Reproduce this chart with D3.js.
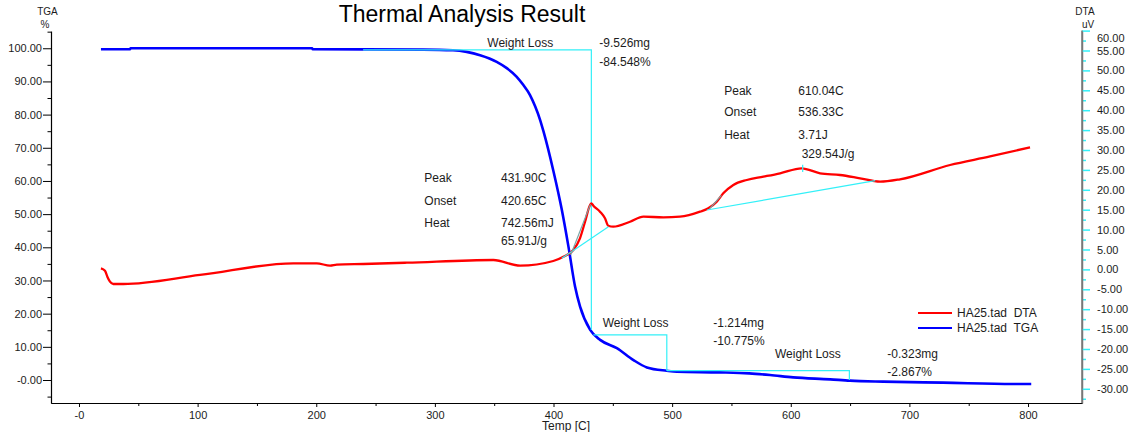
<!DOCTYPE html>
<html>
<head>
<meta charset="utf-8">
<script src="https://cdn.jsdelivr.net/npm/d3@7"></script>
<style>
  html, body { margin: 0; padding: 0; background: #fff; }
  svg { display: block; font-family: "Liberation Sans", Arial, sans-serif; }
</style>
</head>
<body>
<svg id="chart" width="1136" height="432"></svg>
<script>
// ---------------- data ----------------
const title = "Thermal Analysis Result";
const xLabel = "Temp [C]";
const tempTicks = [0, 100, 200, 300, 400, 500, 600, 700, 800];
const tempTickLabels = ["-0", "100", "200", "300", "400", "500", "600", "700", "800"];
const tgaTicks = [0, 10, 20, 30, 40, 50, 60, 70, 80, 90, 100];
const tgaTickLabels = ["-0.00", "10.00", "20.00", "30.00", "40.00", "50.00", "60.00", "70.00", "80.00", "90.00", "100.00"];
const dtaTicks = [-30, -25, -20, -15, -10, -5, 0, 5, 10, 15, 20, 25, 30, 35, 40, 45, 50, 55, 60];
const dtaTickLabels = ["-30.00", "-25.00", "-20.00", "-15.00", "-10.00", "-5.00", "0.00", "5.00", "10.00", "15.00",
                       "20.00", "25.00", "30.00", "35.00", "40.00", "45.00", "50.00", "55.00", "60.00"];

// TGA curve: [temperature C, weight %]
const tgaTemp = [18.5, 43, 43.5, 196.5, 197, 290, 315.3, 326.8, 338.1, 352.1, 360.6, 369, 374.6, 380.2, 384.5, 388.6,
  391.5, 399.9, 407.0, 412.6, 418.2, 422.4, 430.9, 439.3, 453.4, 467.4, 478.7, 495.5, 504, 540, 565, 582.5, 602,
  633.2, 650, 678, 728.5, 787.5, 802.7];
const tgaValue = [99.7, 99.7, 100.0, 100.0, 99.7, 99.6, 99.4, 98.9, 97.9, 95.9, 94.0, 91.4, 88.9, 85.9, 82.5, 78.5,
  75.0, 63.0, 51.3, 40.2, 28.1, 22.1, 15.1, 12.1, 9.6, 6.0, 3.8, 2.8, 2.5, 2.3, 2.0, 1.5, 0.8,
  0.2, -0.2, -0.5, -0.8, -1.2, -1.2];

// DTA curve: [temperature C, uV]
const dtaTemp = [18.5, 21.9, 23.9, 26.1, 28.9, 37.4, 102, 180.7, 200.4, 211.6, 217.3, 239.7, 276.3, 349.3, 371.8,
  399.8, 408.3, 416.7, 422.3, 426.6, 430.8, 431.9, 433.6, 439.2, 443.4, 446.2, 450.4, 464.5, 475.8, 492.6, 506.6,
  523.5, 530.5, 537.6, 543.1, 551.6, 562.9, 576.9, 591, 609.2, 624.7, 641.5, 658.4, 675.3, 692.1, 734.3, 768, 801.7];
const dtaValue = [0.28, -0.33, -1.83, -3.09, -3.67, -3.67, -1.4, 1.53, 1.53, 0.93, 1.18, 1.36, 1.68, 2.36, 0.93,
  2.11, 3.19, 4.87, 7.81, 11.98, 16.18, 16.6, 16.0, 14.5, 12.84, 10.98, 10.73, 11.98, 13.24, 13.09, 13.24,
  14.5, 15.35, 17.01, 19.12, 21.21, 22.46, 23.29, 24.15, 25.4, 24.15, 23.72, 22.89, 22.04, 22.64, 26.23, 28.37, 30.68];

// TGA weight-loss steps: start T, end T, upper %, lower %
const lossStartT = [239.5, 433.6, 495.5];
const lossEndT = [431.9, 495.5, 649.4];
const lossUpper = [99.5, 13.6, 2.8];
const lossLower = [15.1, 2.8, 0.0];
const lossMg = ["-9.526mg", "-1.214mg", "-0.323mg"];
const lossPct = ["-84.548%", "-10.775%", "-2.867%"];
// label anchors in data space (T, %)
const lossTitleT = [344.2, 441.5, 586.7];
const lossTitleV = [101.5, 17.3, 8.05];
const lossValT = [438.6, 534.7, 681.4];
const lossValV1 = [101.5, 17.3, 8.05];
const lossValV2 = [95.9, 11.8, 2.5];

// DTA peak analysis
const peakNames = ["Peak", "Onset", "Heat"];
const peak1Values = ["431.90C", "420.65C", "742.56mJ", "65.91J/g"];
const peak2Values = ["610.04C", "536.33C", "3.71J", "329.54J/g"];
const peakLabelT = [291.1, 543.9];
const peakValueT = [355.7, 606.4];
const peakRowsV1 = [22.9, 17.26, 11.83, 7.2];
const peakRowsV2 = [44.9, 39.55, 33.94, 29.0];
const peakBaseT = [[407, 446.3], [529.3, 671.2]];
const peakBaseV = [[2.79, 10.73], [14.92, 22.29]];
const peakTanT = [[414.5, 431.2], [531.5, 541.5]];
const peakTanV = [[3.6, 16.4], [15.2, 18.6]];
const peakMarkT = 610.04;
const peakMarkV = [24.5, 26.3];

const legendNames = ["HA25.tad  DTA", "HA25.tad  TGA"];
const legendColors = ["#ff0000", "#0000ff"];

// ---------------- drawing ----------------
const svg = d3.select("#chart");
const x = d3.scaleLinear().domain([-23.6, 845.5]).range([51, 1082]);
const yL = d3.scaleLinear().domain([-6.93, 105.2]).range([403, 31]);
const yR = d3.scaleLinear().domain([-33.57, 60]).range([403, 30.6]);
const txt = "#1c1c1c";
const cyan = "#33f0f8";

// Title
svg.append("text").attr("x", 462).attr("y", 22).attr("text-anchor", "middle")
  .attr("font-size", 23).attr("fill", "#000").text(title);

// Axis unit labels
svg.append("text").attr("x", 47.5).attr("y", 15).attr("text-anchor", "middle").attr("font-size", 10).attr("fill", txt).text("TGA");
svg.append("text").attr("x", 45).attr("y", 27.5).attr("text-anchor", "middle").attr("font-size", 10).attr("fill", txt).text("%");
svg.append("text").attr("x", 1085).attr("y", 15).attr("text-anchor", "middle").attr("font-size", 10).attr("fill", txt).text("DTA");
svg.append("text").attr("x", 1088).attr("y", 27.5).attr("text-anchor", "middle").attr("font-size", 10).attr("fill", txt).text("uV");

// Bottom axis
const minorT = d3.range(50, 846, 100);
svg.append("g").attr("transform", "translate(0,403)")
  .call(d3.axisBottom(x).tickValues(minorT).tickSize(3).tickSizeOuter(0).tickFormat(""))
  .call(g => g.select(".domain").attr("stroke", "#000"));
const bx = svg.append("g").attr("transform", "translate(0,403)")
  .call(d3.axisBottom(x).tickValues(tempTicks).tickSize(4).tickSizeOuter(0).tickPadding(4)
    .tickFormat((d, i) => tempTickLabels[i]));
bx.select(".domain").attr("stroke", "#000").attr("stroke-width", 1.2);
bx.selectAll("text").attr("font-size", 11).attr("fill", txt).attr("font-family", "Liberation Sans, Arial, sans-serif");

svg.append("text").attr("x", 566).attr("y", 430).attr("text-anchor", "middle")
  .attr("font-size", 12).attr("fill", txt).text(xLabel);

// Left axis
const minorL = d3.range(-5, 106, 10);
svg.append("g").attr("transform", "translate(51,0)")
  .call(d3.axisLeft(yL).tickValues(minorL).tickSize(3.5).tickSizeOuter(0).tickFormat(""))
  .call(g => g.select(".domain").remove());
const ly = svg.append("g").attr("transform", "translate(51,0)")
  .call(d3.axisLeft(yL).tickValues(tgaTicks).tickSize(8).tickSizeOuter(0).tickPadding(1)
    .tickFormat((d, i) => tgaTickLabels[i]));
ly.select(".domain").attr("stroke", "#000").attr("stroke-width", 1.2);
ly.selectAll("text").attr("font-size", 11).attr("fill", txt).attr("font-family", "Liberation Sans, Arial, sans-serif");

// Right axis
const minorR = d3.range(-32.5, 60, 5);
svg.append("g").attr("transform", "translate(1082,0)")
  .call(d3.axisRight(yR).tickValues(minorR).tickSize(4).tickSizeOuter(0).tickFormat(""))
  .call(g => g.select(".domain").remove())
  .call(g => g.selectAll("line").attr("stroke", cyan).attr("stroke-width", 1.5));
const ry = svg.append("g").attr("transform", "translate(1082,0)")
  .call(d3.axisRight(yR).tickValues(dtaTicks).tickSize(8).tickSizeOuter(0).tickPadding(7)
    .tickFormat((d, i) => dtaTickLabels[i]));
ry.select(".domain").attr("stroke", "#777").attr("stroke-width", 1.5);
ry.selectAll("line").attr("stroke", cyan).attr("stroke-width", 1.5);
ry.selectAll("text").attr("font-size", 11).attr("fill", txt).attr("font-family", "Liberation Sans, Arial, sans-serif")
  .attr("dy", d => d === 60 ? "0.95em" : "0.32em");
svg.append("line").attr("x1", 1082).attr("x2", 1082).attr("y1", yR(60)).attr("y2", 403).attr("stroke", "#777").attr("stroke-width", 1.5);

// TGA curve
const tgaPts = tgaTemp.map((t, i) => [t, tgaValue[i]]);
svg.append("path").datum(tgaPts)
  .attr("d", d3.line().x(d => x(d[0])).y(d => yL(d[1])).curve(d3.curveMonotoneX))
  .attr("fill", "none").attr("stroke", "#0000ff").attr("stroke-width", 2.6);

// Weight loss steps
lossStartT.forEach((s, i) => {
  const pts = [[s, lossUpper[i]], [lossEndT[i], lossUpper[i]], [lossEndT[i], lossLower[i]]];
  svg.append("path").datum(pts)
    .attr("d", d3.line().x(d => x(d[0])).y(d => yL(d[1])))
    .attr("fill", "none").attr("stroke", cyan).attr("stroke-width", 1.2);
  svg.append("text").attr("x", x(lossTitleT[i])).attr("y", yL(lossTitleV[i])).attr("dy", "0.35em")
    .attr("font-size", 12).attr("fill", txt).text("Weight Loss");
  svg.append("text").attr("x", x(lossValT[i])).attr("y", yL(lossValV1[i])).attr("dy", "0.35em")
    .attr("font-size", 12).attr("fill", txt).text(lossMg[i]);
  svg.append("text").attr("x", x(lossValT[i])).attr("y", yL(lossValV2[i])).attr("dy", "0.35em")
    .attr("font-size", 12).attr("fill", txt).text(lossPct[i]);
});

// DTA curve
const dtaPts = dtaTemp.map((t, i) => [t, dtaValue[i]]);
svg.append("path").datum(dtaPts)
  .attr("d", d3.line().x(d => x(d[0])).y(d => yR(d[1])).curve(d3.curveMonotoneX))
  .attr("fill", "none").attr("stroke", "#ff0000").attr("stroke-width", 2.3);

// Peak baselines and tangents
peakBaseT.forEach((bt, i) => {
  svg.append("line").attr("x1", x(bt[0])).attr("y1", yR(peakBaseV[i][0]))
    .attr("x2", x(bt[1])).attr("y2", yR(peakBaseV[i][1]))
    .attr("stroke", cyan).attr("stroke-width", 1.2);
  svg.append("line").attr("x1", x(peakTanT[i][0])).attr("y1", yR(peakTanV[i][0]))
    .attr("x2", x(peakTanT[i][1])).attr("y2", yR(peakTanV[i][1]))
    .attr("stroke", "#7aa6a8").attr("stroke-width", 1.2);
});
svg.append("line").attr("x1", x(peakMarkT)).attr("x2", x(peakMarkT))
  .attr("y1", yR(peakMarkV[0])).attr("y2", yR(peakMarkV[1])).attr("stroke", cyan).attr("stroke-width", 1.2);

// Peak labels
function peakBlock(i, values, rows) {
  peakNames.forEach((n, j) => {
    svg.append("text").attr("x", x(peakLabelT[i])).attr("y", yR(rows[j])).attr("dy", "0.35em")
      .attr("font-size", 12).attr("fill", txt).text(n);
  });
  values.forEach((v, j) => {
    const t = (j === 3 && i === 1) ? peakValueT[i] + 2.8 : peakValueT[i];
    svg.append("text").attr("x", x(t)).attr("y", yR(rows[j])).attr("dy", "0.35em")
      .attr("font-size", 12).attr("fill", txt).text(v);
  });
}
peakBlock(0, peak1Values, peakRowsV1);
peakBlock(1, peak2Values, peakRowsV2);

// Legend
const lg = svg.append("g").attr("transform", "translate(918,313)");
legendNames.forEach((n, i) => {
  lg.append("line").attr("x1", 0).attr("x2", 34).attr("y1", i * 15).attr("y2", i * 15)
    .attr("stroke", legendColors[i]).attr("stroke-width", 2.2);
  lg.append("text").attr("x", 39).attr("y", i * 15).attr("dy", "0.35em")
    .attr("font-size", 12).attr("fill", txt).attr("xml:space", "preserve").style("white-space", "pre").text(n);
});
</script>
</body>
</html>
